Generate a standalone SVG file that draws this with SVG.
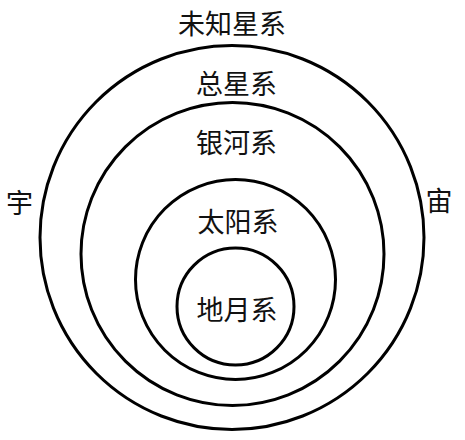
<svg xmlns="http://www.w3.org/2000/svg" width="465" height="440" viewBox="0 0 465 440">
<style>
.ring{fill:none;stroke:#000;stroke-width:3}
.lbl{font-family:"Noto Sans CJK SC","Noto Sans CJK JP",sans-serif;font-size:27px;fill:#111;text-anchor:middle}
</style>
<rect width="465" height="440" fill="#fff"/>
<g id="universe">
<circle class="ring" cx="232" cy="237.5" r="192"/>
<text class="lbl" x="232" y="34">未知星系</text>
<text class="lbl" x="19.5" y="213">宇</text>
<text class="lbl" x="439" y="211">宙</text>
</g>
<g id="total">
<circle class="ring" cx="232.5" cy="254" r="151.5"/>
<text class="lbl" x="236.5" y="94">总星系</text>
</g>
<g id="galaxy">
<circle class="ring" cx="235.5" cy="279.5" r="100"/>
<text class="lbl" x="236.5" y="153">银河系</text>
</g>
<g id="solar">
<circle class="ring" cx="235.5" cy="306.5" r="58.5"/>
<text class="lbl" x="238" y="232">太阳系</text>
</g>
<g id="earthmoon">
<text class="lbl" x="237" y="320">地月系</text>
</g>
<g id="connectors"/>
</svg>
